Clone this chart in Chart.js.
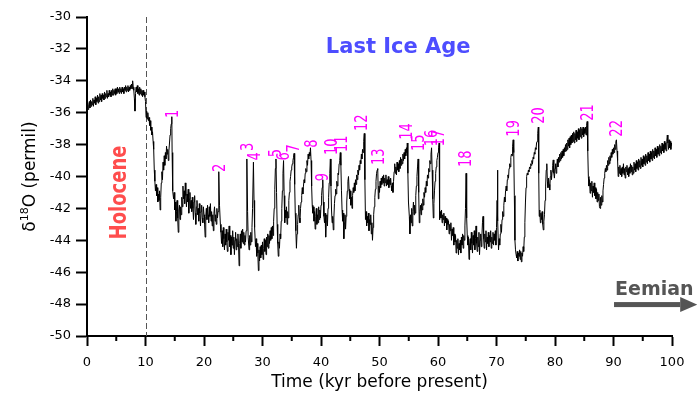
<!DOCTYPE html>
<html>
<head>
<meta charset="utf-8">
<script src="https://cdn.jsdelivr.net/npm/chart.js@4.4.0/dist/chart.umd.min.js"></script>
<style>
  html, body { margin: 0; padding: 0; background: #fff; }
</style>
</head>
<body>
<canvas id="gisp2" width="697" height="394"></canvas>
<script>
// GISP2 oxygen isotope record, [age kyr BP, d18O permil]
var holocene = [
  [0.0,-35.7],[0.1,-35.4],[0.2,-35.8],[0.3,-35.5],[0.4,-35.3],[0.5,-35.7],[0.6,-35.2],[0.7,-35.6],[0.8,-35.3],[0.9,-35.5],
  [1.0,-35.1],[1.1,-35.6],[1.2,-35.2],[1.3,-35.4],[1.4,-35.0],[1.5,-35.5],[1.6,-35.1],[1.7,-35.3],[1.8,-34.9],[1.9,-35.4],
  [2.0,-35.0],[2.1,-35.3],[2.2,-34.8],[2.3,-35.2],[2.4,-34.9],[2.5,-35.3],[2.6,-34.8],[2.7,-35.1],[2.8,-34.9],[2.9,-35.2],
  [3.0,-34.7],[3.1,-35.1],[3.2,-34.8],[3.3,-35.0],[3.4,-34.6],[3.5,-35.1],[3.6,-34.8],[3.7,-35.0],[3.8,-34.6],[3.9,-34.9],
  [4.0,-34.7],[4.1,-35.0],[4.2,-34.6],[4.3,-34.9],[4.4,-34.5],[4.5,-34.9],[4.6,-34.6],[4.7,-34.8],[4.8,-34.5],[4.9,-34.9],
  [5.0,-34.5],[5.1,-34.8],[5.2,-34.4],[5.3,-34.7],[5.4,-34.5],[5.5,-34.8],[5.6,-34.4],[5.7,-34.7],[5.8,-34.5],[5.9,-34.8],
  [6.0,-34.4],[6.1,-34.7],[6.2,-34.5],[6.3,-34.8],[6.4,-34.4],[6.5,-34.6],[6.6,-34.3],[6.7,-34.7],[6.8,-34.4],[6.9,-34.6],
  [7.0,-34.3],[7.1,-34.7],[7.2,-34.4],[7.3,-34.6],[7.4,-34.3],[7.5,-34.5],[7.6,-34.2],[7.7,-34.5],[7.8,-34.0],[7.9,-34.4],
  [8.0,-34.6],[8.1,-35.1],[8.2,-35.9],[8.3,-34.8],[8.4,-34.4],[8.5,-34.7],[8.6,-34.3],[8.7,-34.8],[8.8,-34.5],[8.9,-34.9],
  [9.0,-34.4],[9.1,-34.8],[9.2,-34.5],[9.3,-34.9],[9.4,-34.6],[9.5,-35.0],[9.6,-34.6],[9.7,-34.9],[9.8,-34.7],[9.9,-35.0],[10.0,-35.3]
];

var glacial10to40 = [
  [10.1,-36.3],[10.2,-35.9],[10.3,-36.4],[10.4,-36.0],[10.5,-36.5],[10.6,-36.3],[10.7,-36.8],[10.8,-36.5],[10.9,-37.1],[11.0,-36.9],
  [11.1,-37.4],[11.2,-37.2],[11.3,-37.8],[11.4,-38.3],[11.5,-39.6],[11.6,-40.3],[11.7,-40.9],[11.8,-40.5],[11.9,-41.2],[12.0,-40.7],
  [12.1,-41.6],[12.2,-41.1],[12.3,-41.5],[12.4,-40.9],[12.5,-42.1],[12.6,-41.3],[12.7,-40.4],[12.8,-39.7],[12.9,-40.2],[13.0,-39.1],
  [13.1,-39.6],[13.2,-38.7],[13.3,-39.3],[13.4,-38.5],[13.5,-38.9],[13.6,-38.1],[13.7,-38.6],[13.8,-38.3],[13.9,-39.0],[14.0,-38.4],
  [14.1,-37.9],[14.2,-37.4],[14.3,-37.0],[14.4,-36.7],[14.5,-36.25],[14.55,-38.5],[14.6,-40.4],[14.7,-40.9],[14.8,-41.4],[14.9,-41.0],
  [15.0,-42.1],[15.1,-41.6],[15.2,-42.8],[15.3,-42.2],[15.4,-41.5],[15.5,-42.6],[15.6,-43.5],[15.7,-42.1],[15.8,-41.8],[15.9,-42.7],
  [16.0,-41.9],[16.1,-42.4],[16.2,-41.3],[16.3,-41.9],[16.4,-40.6],[16.5,-41.4],[16.6,-40.9],[16.7,-41.7],[16.8,-40.4],[16.9,-41.2],
  [17.0,-41.9],[17.1,-41.1],[17.2,-41.6],[17.3,-40.8],[17.4,-42.3],[17.5,-41.4],[17.6,-41.0],[17.7,-42.0],[17.8,-41.5],[17.9,-42.2],
  [18.0,-41.3],[18.1,-42.0],[18.2,-42.7],[18.3,-41.6],[18.4,-41.2],[18.5,-42.3],[18.6,-43.0],[18.7,-41.9],[18.8,-41.5],[18.9,-42.4],
  [19.0,-42.0],[19.1,-42.8],[19.2,-41.7],[19.3,-42.3],[19.4,-43.1],[19.5,-42.2],[19.6,-41.8],[19.7,-42.6],[19.8,-42.9],[19.9,-41.9],
  [20.0,-42.4],[20.1,-43.0],[20.2,-43.8],[20.3,-42.5],[20.4,-42.0],[20.5,-42.7],[20.6,-41.8],[20.7,-42.4],[20.8,-42.9],[20.9,-41.9],
  [21.0,-42.5],[21.1,-41.7],[21.2,-42.8],[21.3,-42.2],[21.4,-43.1],[21.5,-42.4],[21.6,-43.4],[21.7,-42.3],[21.8,-41.9],[21.9,-42.8],
  [22.0,-42.4],[22.1,-43.0],[22.2,-42.0],[22.3,-42.6],[22.4,-42.2],[22.5,-41.2],[22.55,-39.7],[22.65,-41.8],[22.8,-43.0],[22.9,-43.5],
  [23.0,-44.2],[23.1,-43.4],[23.2,-44.4],[23.3,-43.2],[23.4,-43.9],[23.5,-44.6],[23.6,-43.6],[23.7,-44.3],[23.8,-43.3],[23.9,-44.1],
  [24.0,-44.7],[24.1,-43.5],[24.2,-44.0],[24.3,-43.1],[24.4,-44.4],[24.5,-43.7],[24.6,-44.9],[24.7,-43.8],[24.8,-44.3],[24.9,-43.4],
  [25.0,-44.5],[25.1,-43.8],[25.2,-44.9],[25.3,-44.0],[25.4,-43.5],[25.5,-44.6],[25.6,-43.9],[25.7,-44.4],[25.8,-43.6],[25.9,-44.3],
  [26.0,-45.6],[26.1,-44.2],[26.2,-43.6],[26.3,-44.5],[26.4,-43.4],[26.5,-44.1],[26.6,-43.3],[26.7,-44.2],[26.8,-43.5],[26.9,-44.3],
  [27.0,-43.7],[27.1,-44.1],[27.2,-43.4],[27.3,-41.8],[27.35,-38.9],[27.45,-42.2],[27.55,-43.8],[27.7,-44.6],[27.8,-43.7],[27.9,-44.3],
  [28.0,-43.5],[28.1,-44.1],[28.2,-43.2],[28.3,-42.0],[28.45,-39.1],[28.55,-41.5],[28.65,-43.2],[28.8,-44.4],[28.9,-43.9],[29.0,-45.0],
  [29.1,-44.2],[29.2,-44.8],[29.3,-45.9],[29.4,-44.6],[29.5,-45.3],[29.6,-44.4],[29.7,-45.1],[29.8,-44.3],[29.9,-44.9],[30.0,-44.1],
  [30.1,-45.2],[30.2,-44.5],[30.3,-43.9],[30.4,-44.7],[30.5,-44.0],[30.6,-44.9],[30.7,-43.8],[30.8,-44.4],[30.9,-43.6],[31.0,-44.5],
  [31.1,-43.7],[31.2,-44.2],[31.3,-43.4],[31.4,-44.0],[31.5,-43.2],[31.6,-43.9],[31.7,-43.1],[31.8,-43.7],[31.9,-42.8],[32.0,-42.0],
  [32.1,-40.8],[32.2,-39.5],[32.3,-38.9],[32.4,-41.0],[32.5,-43.0],[32.6,-44.2],[32.7,-45.0],[32.8,-44.1],[32.9,-44.5],[33.0,-43.6],
  [33.1,-43.9],[33.2,-42.8],[33.3,-42.0],[33.4,-40.9],[33.5,-39.8],[33.6,-39.0],[33.7,-41.2],[33.8,-42.9],[33.9,-42.1],[34.0,-42.6],
  [34.1,-41.9],[34.2,-43.0],[34.3,-42.2],[34.4,-42.6],[34.5,-41.5],[34.6,-41.0],[34.7,-40.3],[34.8,-40.0],[34.9,-39.6],[35.0,-39.4],
  [35.1,-39.2],[35.2,-39.0],[35.3,-38.8],[35.4,-38.55],[35.5,-40.5],[35.6,-42.3],[35.7,-43.4],[35.8,-44.5],[35.9,-43.6],[36.0,-43.0],
  [36.1,-42.4],[36.2,-41.8],[36.3,-42.6],[36.4,-42.9],[36.5,-42.0],[36.6,-41.6],[36.7,-41.2],[36.8,-40.7],[36.9,-41.1],[37.0,-40.6],
  [37.1,-40.2],[37.2,-40.4],[37.3,-39.8],[37.4,-39.5],[37.5,-39.7],[37.6,-39.0],[37.7,-39.3],[37.8,-38.6],[37.9,-38.9],[38.0,-38.5],
  [38.1,-38.7],[38.2,-38.2],[38.3,-39.0],[38.4,-40.6],[38.5,-41.8],[38.6,-42.3],[38.7,-41.9],[38.8,-42.8],[38.9,-42.2],[39.0,-43.3],
  [39.1,-42.5],[39.2,-42.0],[39.3,-43.0],[39.4,-42.4],[39.5,-42.9],[39.6,-41.9],[39.7,-42.7],[39.8,-42.1],[39.9,-42.6]
];

var glacial40to70 = [
  [40.0,-41.8],[40.1,-41.2],[40.2,-40.7],[40.3,-40.2],[40.4,-41.6],[40.5,-42.5],[40.6,-42.9],[40.7,-42.3],[40.8,-43.8],[40.9,-42.8],
  [41.0,-42.4],[41.1,-43.1],[41.2,-42.0],[41.3,-41.3],[41.4,-40.4],[41.5,-39.8],[41.6,-38.9],[41.7,-40.6],[41.8,-42.1],[41.9,-42.9],
  [42.0,-42.5],[42.1,-43.35],[42.2,-42.6],[42.3,-41.7],[42.4,-41.2],[42.5,-40.8],[42.6,-41.1],[42.7,-40.3],[42.8,-40.6],[42.9,-39.8],
  [43.0,-39.9],[43.1,-39.2],[43.2,-39.0],[43.3,-38.5],[43.4,-39.3],[43.5,-40.9],[43.6,-42.1],[43.7,-42.8],[43.8,-42.3],[43.9,-43.9],
  [44.0,-42.9],[44.1,-42.4],[44.2,-43.3],[44.3,-42.5],[44.4,-41.6],[44.5,-40.9],[44.6,-40.3],[44.7,-40.0],[44.8,-40.8],[44.9,-41.4],
  [45.0,-40.9],[45.1,-41.8],[45.2,-41.3],[45.3,-42.0],[45.4,-41.2],[45.5,-40.7],[45.6,-41.0],[45.7,-40.4],[45.8,-40.9],[45.9,-40.2],
  [46.0,-40.5],[46.1,-39.9],[46.2,-40.2],[46.3,-39.6],[46.4,-39.9],[46.5,-39.3],[46.6,-39.6],[46.7,-39.0],[46.8,-39.2],[46.9,-38.6],
  [47.0,-38.9],[47.1,-38.3],[47.2,-38.5],[47.3,-37.8],[47.4,-37.3],[47.5,-40.2],[47.6,-42.7],[47.7,-42.2],[47.8,-43.1],[47.9,-42.5],
  [48.0,-42.9],[48.1,-42.3],[48.2,-43.4],[48.3,-42.7],[48.4,-43.0],[48.5,-42.4],[48.6,-43.6],[48.7,-42.9],[48.8,-44.0],[48.9,-43.2],
  [49.0,-42.4],[49.1,-41.9],[49.2,-41.3],[49.3,-40.8],[49.4,-40.3],[49.5,-39.8],[49.6,-39.6],[49.7,-39.5],[49.8,-41.4],[49.9,-40.6],
  [50.0,-41.0],[50.1,-40.3],[50.2,-40.7],[50.3,-40.1],[50.4,-40.5],[50.5,-40.0],[50.6,-40.4],[50.7,-39.9],[50.8,-40.6],[50.9,-40.1],
  [51.0,-40.4],[51.1,-39.9],[51.2,-40.6],[51.3,-40.2],[51.4,-40.5],[51.5,-40.0],[51.6,-40.7],[51.7,-40.2],[51.8,-40.5],[51.9,-40.1],
  [52.0,-40.6],[52.1,-40.9],[52.2,-40.4],[52.3,-41.0],[52.4,-40.3],[52.5,-39.7],[52.6,-39.2],[52.7,-39.8],[52.8,-39.4],[52.9,-39.9],
  [53.0,-39.1],[53.1,-39.6],[53.2,-39.2],[53.3,-39.7],[53.4,-39.0],[53.5,-39.5],[53.6,-38.8],[53.7,-39.3],[53.8,-38.9],[53.9,-39.2],
  [54.0,-38.6],[54.1,-39.0],[54.2,-38.5],[54.3,-38.9],[54.4,-38.3],[54.5,-38.7],[54.6,-38.2],[54.7,-38.5],[54.75,-37.9],[54.85,-39.8],
  [54.95,-41.6],[55.1,-42.5],[55.2,-43.6],[55.3,-42.4],[55.4,-42.9],[55.5,-42.0],[55.6,-43.1],[55.7,-42.2],[55.8,-41.6],[55.9,-42.4],
  [56.0,-41.8],[56.1,-42.3],[56.2,-41.2],[56.3,-40.6],[56.4,-40.0],[56.5,-39.4],[56.6,-38.9],[56.7,-41.0],[56.8,-42.9],[56.9,-42.2],
  [57.0,-41.8],[57.1,-42.4],[57.2,-41.7],[57.3,-42.1],[57.4,-41.4],[57.5,-41.8],[57.6,-41.0],[57.7,-41.3],[57.8,-40.7],[57.9,-41.0],
  [58.0,-40.3],[58.1,-40.6],[58.2,-39.9],[58.3,-40.1],[58.4,-39.5],[58.5,-39.7],[58.6,-39.0],[58.7,-39.2],[58.8,-38.6],[58.9,-38.2],
  [59.0,-39.6],[59.1,-41.4],[59.2,-42.6],[59.3,-41.7],[59.4,-40.9],[59.5,-40.3],[59.6,-39.8],[59.7,-39.4],[59.8,-39.0],[59.9,-38.8],
  [60.0,-38.5],[60.1,-38.2],[60.2,-37.9],[60.25,-40.5],[60.3,-42.7],[60.4,-42.2],[60.5,-42.6],[60.6,-42.1],[60.7,-42.9],[60.8,-42.4],
  [60.9,-42.7],[61.0,-42.3],[61.1,-43.1],[61.2,-42.5],[61.3,-42.9],[61.4,-42.6],[61.5,-43.35],[61.6,-42.7],[61.7,-43.0],[61.8,-42.8],
  [61.9,-43.6],[62.0,-43.0],[62.1,-43.4],[62.2,-42.9],[62.3,-44.0],[62.4,-43.3],[62.5,-43.7],[62.6,-43.2],[62.7,-44.3],[62.8,-43.6],
  [62.9,-44.1],[63.0,-43.7],[63.1,-44.8],[63.2,-44.0],[63.3,-44.5],[63.4,-43.9],[63.5,-44.9],[63.6,-44.2],[63.7,-44.6],[63.8,-44.0],
  [63.9,-44.8],[64.0,-43.8],[64.1,-44.3],[64.2,-43.6],[64.3,-44.5],[64.4,-43.7],[64.5,-44.0],[64.6,-43.1],[64.7,-42.0],[64.8,-39.8],
  [64.9,-42.6],[65.0,-43.7],[65.1,-44.3],[65.2,-43.8],[65.3,-45.2],[65.4,-44.3],[65.5,-43.9],[65.6,-44.6],[65.7,-43.5],[65.8,-44.2],
  [65.9,-44.8],[66.0,-43.7],[66.1,-44.3],[66.2,-43.4],[66.3,-44.6],[66.4,-43.9],[66.5,-43.1],[66.6,-44.2],[66.7,-44.7],[66.8,-43.8],
  [66.9,-44.4],[67.0,-43.5],[67.1,-44.9],[67.2,-44.0],[67.3,-43.6],[67.4,-44.4],[67.5,-43.8],[67.6,-42.9],[67.7,-42.5],[67.8,-43.9],
  [67.9,-44.5],[68.0,-43.6],[68.1,-44.1],[68.2,-43.4],[68.3,-44.6],[68.4,-43.8],[68.5,-44.2],[68.6,-43.5],[68.7,-44.4],[68.8,-43.7],
  [68.9,-44.1],[69.0,-43.4],[69.1,-44.5],[69.2,-43.8],[69.3,-44.2],[69.4,-43.5],[69.5,-44.3],[69.6,-43.6],[69.7,-44.0],[69.8,-43.4],
  [69.9,-44.3]
];

var glacial70to100 = [
  [70.0,-43.2],[70.1,-41.5],[70.15,-39.6],[70.25,-42.8],[70.35,-44.6],[70.45,-43.9],[70.55,-44.3],[70.65,-43.6],[70.75,-43.0],[70.85,-43.5],
  [70.95,-42.7],[71.05,-42.2],[71.15,-42.5],[71.25,-41.8],[71.35,-41.3],[71.45,-41.6],[71.55,-40.9],[71.65,-40.6],[71.75,-40.9],[71.85,-40.2],
  [71.95,-39.9],[72.05,-40.1],[72.15,-39.5],[72.25,-39.2],[72.35,-39.4],[72.45,-38.8],[72.55,-38.6],[72.65,-38.7],[72.75,-38.1],[72.85,-37.7],
  [72.95,-38.5],[73.05,-41.2],[73.15,-44.0],[73.25,-44.6],[73.35,-44.9],[73.45,-45.1],[73.55,-44.7],[73.65,-45.3],[73.75,-44.8],[73.85,-45.0],
  [73.95,-44.6],[74.05,-45.2],[74.15,-44.7],[74.25,-45.35],[74.35,-44.8],[74.45,-45.0],[74.55,-44.4],[74.65,-44.7],[74.75,-43.8],[74.85,-42.9],
  [74.95,-41.6],[75.05,-40.7],[75.15,-40.0],[75.25,-39.8],[75.35,-39.9],[75.45,-39.6],[75.55,-39.7],[75.65,-39.4],[75.75,-39.5],[75.85,-39.2],
  [75.95,-39.3],[76.05,-39.0],[76.15,-39.2],[76.25,-38.8],[76.35,-38.9],[76.45,-38.5],[76.55,-38.6],[76.65,-38.2],[76.75,-38.3],[76.85,-37.9],
  [76.95,-37.8],[77.05,-37.3],[77.15,-36.9],[77.22,-39.8],[77.3,-42.5],[77.4,-42.1],[77.5,-42.9],[77.6,-42.3],[77.7,-42.7],[77.8,-42.2],
  [77.9,-43.0],[78.0,-43.35],[78.1,-42.8],[78.2,-42.4],[78.3,-41.5],[78.4,-40.6],[78.5,-39.6],[78.6,-39.2],[78.7,-40.3],[78.8,-40.7],
  [78.9,-40.1],[79.0,-40.5],[79.1,-40.85],[79.2,-40.0],[79.3,-39.6],[79.4,-40.2],[79.5,-39.7],[79.6,-39.3],[79.7,-38.96],[79.8,-39.8],
  [79.9,-40.1],[80.0,-39.5],[80.1,-39.2],[80.2,-39.8],[80.3,-39.3],[80.4,-38.9],[80.5,-39.4],[80.6,-38.8],[80.7,-39.1],[80.8,-38.6],
  [80.9,-39.0],[81.0,-38.5],[81.1,-38.9],[81.2,-38.4],[81.3,-38.8],[81.4,-38.3],[81.5,-38.7],[81.6,-38.2],[81.7,-38.45],[81.8,-38.0],
  [81.9,-38.4],[82.0,-37.9],[82.1,-38.3],[82.2,-37.7],[82.3,-38.1],[82.4,-37.6],[82.5,-38.2],[82.6,-37.5],[82.7,-38.0],[82.8,-37.4],
  [82.9,-37.9],[83.0,-37.3],[83.1,-37.8],[83.2,-37.2],[83.3,-37.9],[83.4,-37.3],[83.5,-37.7],[83.6,-37.1],[83.7,-37.8],[83.8,-37.2],
  [83.9,-37.6],[84.0,-37.0],[84.1,-37.7],[84.2,-37.1],[84.3,-37.5],[84.4,-36.9],[84.5,-37.6],[84.6,-37.0],[84.7,-37.4],[84.8,-36.9],
  [84.9,-37.5],[85.0,-37.0],[85.1,-37.3],[85.2,-36.9],[85.3,-37.4],[85.4,-36.8],[85.5,-36.55],[85.6,-38.4],[85.7,-40.0],[85.8,-40.6],
  [85.9,-40.2],[86.0,-41.05],[86.1,-40.4],[86.2,-40.9],[86.3,-40.3],[86.4,-41.3],[86.5,-40.6],[86.6,-41.0],[86.7,-40.4],[86.8,-41.2],
  [86.9,-40.7],[87.0,-41.4],[87.1,-40.8],[87.2,-41.6],[87.3,-41.0],[87.4,-41.5],[87.5,-41.1],[87.6,-41.9],[87.7,-42.0],[87.8,-41.3],
  [87.9,-41.8],[88.0,-41.2],[88.1,-41.6],[88.2,-40.9],[88.3,-40.5],[88.4,-40.1],[88.5,-39.8],[88.6,-39.5],[88.7,-39.7],[88.8,-39.3],
  [88.9,-39.6],[89.0,-39.0],[89.1,-39.3],[89.2,-38.8],[89.3,-39.2],[89.4,-38.7],[89.5,-39.0],[89.6,-38.5],[89.7,-38.8],[89.8,-38.3],
  [89.9,-38.6],[90.0,-38.2],[90.1,-38.5],[90.2,-38.0],[90.3,-38.3],[90.4,-37.8],[90.5,-37.7],[90.6,-38.4],[90.7,-39.0],[90.8,-40.0],
  [90.9,-39.4],[91.0,-39.8],[91.1,-39.3],[91.2,-39.9],[91.3,-39.5],[91.4,-40.0],[91.5,-39.4],[91.6,-39.8],[91.7,-39.2],[91.8,-39.9],
  [91.9,-39.5],[92.0,-40.1],[92.1,-39.4],[92.2,-39.7],[92.3,-39.3],[92.4,-39.9],[92.5,-39.5],[92.6,-40.0],[92.7,-39.4],[92.8,-39.8],
  [92.9,-39.2],[93.0,-39.7],[93.1,-39.3],[93.2,-39.9],[93.3,-39.4],[93.4,-39.8],[93.5,-39.1],[93.6,-39.6],[93.7,-39.2],[93.8,-39.7],
  [93.9,-39.0],[94.0,-39.5],[94.1,-39.1],[94.2,-39.6],[94.3,-38.9],[94.4,-39.4],[94.5,-39.0],[94.6,-39.5],[94.7,-38.8],[94.8,-39.3],
  [94.9,-38.9],[95.0,-39.4],[95.1,-38.7],[95.2,-39.2],[95.3,-38.8],[95.4,-39.3],[95.5,-38.6],[95.6,-39.1],[95.7,-38.7],[95.8,-39.2],
  [95.9,-38.5],[96.0,-39.0],[96.1,-38.6],[96.2,-39.1],[96.3,-38.4],[96.4,-38.9],[96.5,-38.5],[96.6,-39.0],[96.7,-38.3],[96.8,-38.8],
  [96.9,-38.4],[97.0,-38.9],[97.1,-38.2],[97.2,-38.7],[97.3,-38.3],[97.4,-38.8],[97.5,-38.1],[97.6,-38.6],[97.7,-38.2],[97.8,-38.7],
  [97.9,-38.0],[98.0,-38.5],[98.1,-38.1],[98.2,-38.6],[98.3,-37.9],[98.4,-38.4],[98.5,-38.0],[98.6,-38.5],[98.7,-37.8],[98.8,-38.3],
  [98.9,-37.9],[99.0,-38.4],[99.1,-37.8],[99.2,-37.4],[99.3,-37.9],[99.4,-38.3],[99.5,-37.7],[99.6,-38.2],[99.7,-37.8],[99.8,-38.3],
  [99.9,-37.9],[100.0,-38.1]
];

// Dansgaard-Oeschger interstadial labels: number, age, d18O where the label starts
var eventNames = ['1','2','3','4','5','6','7','8','9','10','11','12','13','14','15','16','17','18','19','20','21','22'];
var eventAges  = [14.5, 22.56, 27.35, 28.55, 32.14, 33.5, 35.2, 38.3, 40.17, 41.7, 43.4, 46.9, 49.74, 54.53, 56.58, 58.8, 60.0, 64.6, 72.8, 77.1, 85.5, 90.4];
var eventD18O  = [-36.33, -39.72, -38.4, -39.0, -38.8, -39.0, -38.5, -38.2, -40.3, -38.65, -38.46, -37.15, -39.28, -37.7, -38.4, -38.1, -38.1, -39.4, -37.5, -36.7, -36.5, -37.5];

var holoceneBoundary = 10;
var xTicks = { min: 0, max: 100, step: 10, minorStep: 5 };
var yTicks = { min: -50, max: -30, step: 2 };

var record = holocene.concat(glacial10to40, glacial40to70, glacial70to100).map(function(p) {
  return { x: p[0], y: p[1] };
});

Chart.defaults.font.family = "'DejaVu Sans', sans-serif";

var overlay = {
  id: 'overlay',
  beforeDatasetsDraw: function(chart) {
    var ctx = chart.ctx, x = chart.scales.x, a = chart.chartArea;
    var px = Math.round(x.getPixelForValue(holoceneBoundary)) + 0.5;
    ctx.save();
    ctx.strokeStyle = '#555';
    ctx.lineWidth = 1;
    ctx.setLineDash([6, 3]);
    ctx.beginPath();
    ctx.moveTo(px, a.top);
    ctx.lineTo(px, a.bottom);
    ctx.stroke();
    ctx.restore();
  },
  afterDraw: function(chart) {
    var ctx = chart.ctx, x = chart.scales.x, y = chart.scales.y, a = chart.chartArea;
    ctx.save();

    // minor ticks on the time axis
    ctx.strokeStyle = '#000';
    ctx.lineWidth = 2;
    for (var v = xTicks.minorStep; v < xTicks.max; v += xTicks.step) {
      var mx = x.getPixelForValue(v);
      ctx.beginPath();
      ctx.moveTo(mx, a.bottom);
      ctx.lineTo(mx, a.bottom + 5);
      ctx.stroke();
    }

    // event numbers, rotated
    ctx.fillStyle = '#ff00ff';
    ctx.font = "13px 'DejaVu Sans'";
    ctx.textAlign = 'left';
    ctx.textBaseline = 'alphabetic';
    eventNames.forEach(function(name, i) {
      ctx.save();
      ctx.translate(x.getPixelForValue(eventAges[i]) + 6, y.getPixelForValue(eventD18O[i]));
      ctx.scale(1.3, 1);
      ctx.rotate(-Math.PI / 2);
      ctx.fillText(name, 0, 0);
      ctx.restore();
    });

    // Holocene
    ctx.save();
    ctx.fillStyle = '#ff4d4d';
    ctx.font = "bold 18px 'DejaVu Sans'";
    ctx.textAlign = 'center';
    ctx.translate(125.5, y.getPixelForValue(-41.0));
    ctx.scale(1.3, 1);
    ctx.rotate(-Math.PI / 2);
    ctx.fillText('Holocene', 0, 0);
    ctx.restore();

    // Last Ice Age
    ctx.fillStyle = '#4d4dff';
    ctx.font = "bold 21px 'DejaVu Sans'";
    ctx.textAlign = 'center';
    ctx.textBaseline = 'middle';
    ctx.fillText('Last Ice Age', x.getPixelForValue(53.2), y.getPixelForValue(-31.9));

    // Eemian arrow
    ctx.fillStyle = '#555';
    ctx.font = "bold 19px 'DejaVu Sans'";
    ctx.textAlign = 'left';
    ctx.textBaseline = 'alphabetic';
    ctx.fillText('Eemian', x.getPixelForValue(90.26), y.getPixelForValue(-47.43));
    var ay = y.getPixelForValue(-48.03);
    var x0 = x.getPixelForValue(90.09), x1 = x.getPixelForValue(101.4), x2 = x.getPixelForValue(104.3);
    ctx.fillRect(x0, ay - 2.5, x1 - x0, 5);
    ctx.beginPath();
    ctx.moveTo(x1, ay - 7.5);
    ctx.lineTo(x2, ay);
    ctx.lineTo(x1, ay + 7.5);
    ctx.closePath();
    ctx.fill();

    // axis titles
    ctx.fillStyle = '#000';
    ctx.font = "17px 'DejaVu Sans'";
    ctx.textAlign = 'center';
    ctx.textBaseline = 'middle';
    ctx.fillText('Time (kyr before present)', (a.left + a.right) / 2, 383);

    ctx.textAlign = 'left';
    ctx.textBaseline = 'alphabetic';
    ctx.font = "17px 'DejaVu Sans'";
    var w1 = ctx.measureText('\u03b4').width;
    var w3 = ctx.measureText('O (permil)').width;
    ctx.font = "11px 'DejaVu Sans'";
    var w2 = ctx.measureText('18').width;
    var total = w1 + w2 + w3;
    ctx.translate(34.5, (a.top + a.bottom) / 2 + total / 2);
    ctx.rotate(-Math.PI / 2);
    ctx.font = "17px 'DejaVu Sans'";
    ctx.fillText('\u03b4', 0, 0);
    ctx.font = "11px 'DejaVu Sans'";
    ctx.fillText('18', w1, -7);
    ctx.font = "17px 'DejaVu Sans'";
    ctx.fillText('O (permil)', w1 + w2, 0);

    ctx.restore();
  }
};

new Chart(document.getElementById('gisp2'), {
  type: 'line',
  data: {
    datasets: [{
      data: record,
      borderColor: '#000',
      borderWidth: 1,
      pointRadius: 0,
      tension: 0,
      fill: false
    }]
  },
  options: {
    responsive: false,
    animation: false,
    layout: { padding: { top: 17, right: 25, left: 0, bottom: 0 } },
    plugins: { legend: { display: false }, tooltip: { enabled: false } },
    scales: {
      x: {
        type: 'linear',
        min: xTicks.min,
        max: xTicks.max,
        ticks: { stepSize: xTicks.step, color: '#000', font: { size: 13 }, padding: 9, maxRotation: 0 },
        grid: { drawOnChartArea: false, tickLength: 10, tickWidth: 2, tickColor: '#000' },
        border: { color: '#000', width: 2 },
        afterFit: function(s) { s.height = 58; }
      },
      y: {
        min: yTicks.min,
        max: yTicks.max,
        ticks: { stepSize: yTicks.step, color: '#000', font: { size: 13 }, padding: 5 },
        grid: { drawOnChartArea: false, tickLength: 11, tickWidth: 2, tickColor: '#000' },
        border: { color: '#000', width: 2 },
        afterFit: function(s) { s.width = 87; }
      }
    }
  },
  plugins: [overlay]
});
</script>
</body>
</html>
